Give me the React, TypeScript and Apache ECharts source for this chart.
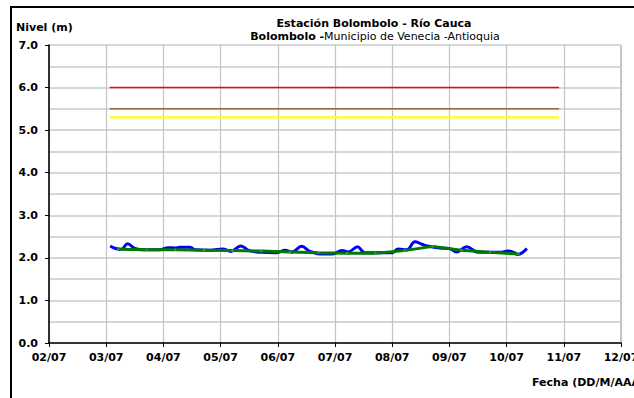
import React, { useEffect, useRef } from "react";
import * as echarts from "echarts";

const xTickLabels = ["02/07", "03/07", "04/07", "05/07", "06/07", "07/07", "08/07", "09/07", "10/07", "11/07", "12/07"];

const blueTimes = [
  "03/07 01:40", "03/07 04:00", "03/07 06:15", "03/07 09:00", "03/07 12:00", "03/07 15:00", "03/07 22:30",
  "04/07 02:00", "04/07 05:00", "04/07 07:00", "04/07 11:15", "04/07 13:15", "04/07 19:30",
  "05/07 01:15", "05/07 04:15", "05/07 08:30", "05/07 12:00", "05/07 17:15", "05/07 23:30",
  "06/07 03:00", "06/07 06:00", "06/07 10:00", "06/07 13:30", "06/07 18:00", "06/07 22:45",
  "07/07 03:00", "07/07 05:30", "07/07 09:30", "07/07 12:30",
  "08/07 00:00", "08/07 02:30", "08/07 06:15", "08/07 09:30", "08/07 12:30", "08/07 14:45", "08/07 20:00",
  "09/07 00:00", "09/07 03:00", "09/07 07:15", "09/07 12:00", "09/07 21:30",
  "10/07 00:30", "10/07 03:00", "10/07 04:45", "10/07 08:30",
];
const blueLevels = [
  2.28, 2.22, 2.2, 2.33, 2.22, 2.19, 2.19,
  2.24, 2.23, 2.25, 2.25, 2.19, 2.18,
  2.21, 2.15, 2.28, 2.17, 2.13, 2.12,
  2.18, 2.14, 2.27, 2.15, 2.09, 2.09,
  2.17, 2.14, 2.26, 2.12,
  2.12, 2.21, 2.19, 2.38, 2.32, 2.28, 2.23,
  2.22, 2.14, 2.26, 2.13, 2.13,
  2.16, 2.13, 2.08, 2.22,
];

const greenTimes = [
  "03/07 05:00", "03/07 17:00", "04/07 05:00", "04/07 17:00", "05/07 05:00", "05/07 17:00",
  "06/07 05:00", "06/07 17:00", "07/07 05:00", "07/07 17:00", "08/07 05:00", "08/07 17:00",
  "09/07 05:00", "09/07 17:00", "10/07 05:00",
];
const greenLevels = [2.2, 2.19, 2.19, 2.18, 2.17, 2.16, 2.14, 2.12, 2.11, 2.11, 2.17, 2.27, 2.18, 2.13, 2.09];

const thresholdStart = "03/07 01:30";
const thresholdEnd = "10/07 22:00";
const thresholdNames = ["Alerta roja", "Alerta naranja", "Alerta amarilla"];
const thresholdLevels = [6.0, 5.5, 5.3];

const dayOffset = (s: string): number => {
  const [d, t] = s.split(" ");
  const dd = Number(d.split("/")[0]);
  const [hh, mm] = t.split(":").map(Number);
  return dd - 2 + hh / 24 + mm / 1440;
};

const FONT = "'DejaVu Sans', 'Liberation Sans', Arial, sans-serif";

export default function App() {
  const ref = useRef<HTMLDivElement>(null);
  useEffect(() => {
    if (!ref.current) return;
    const chart = echarts.init(ref.current, undefined, { renderer: "svg" });
    const thresholdStyles = [
      { color: "#FF0000", width: 1.5 },
      { color: "#A0643C", width: 1.5 },
      { color: "#FFFF33", width: 2.5 },
    ];
    const thresholdSeries = thresholdLevels.map((lvl, i) => ({
      name: thresholdNames[i],
      type: "line",
      data: [
        [dayOffset(thresholdStart), lvl],
        [dayOffset(thresholdEnd), lvl],
      ],
      showSymbol: false,
      lineStyle: thresholdStyles[i],
      z: 2,
    }));
    chart.setOption({
      animation: false,
      textStyle: { fontFamily: FONT },
      grid: {
        left: 49,
        top: 45,
        right: 13,
        bottom: 55,
        outerBoundsMode: "none",
        containLabel: false,
        show: true,
        borderColor: "#8C8C8C",
        borderWidth: 1,
      },
      graphic: [
        {
          type: "rect",
          shape: { x: 11, y: 7, width: 700, height: 500 },
          style: { fill: "none", stroke: "#000", lineWidth: 2 },
          silent: true,
        },
        {
          type: "text",
          x: 374,
          y: 23,
          style: {
            text: "Estación Bolombolo - Río Cauca",
            font: `bold 11px ${FONT}`,
            fill: "#000",
            align: "center",
            verticalAlign: "middle",
          },
        },
        {
          type: "text",
          x: 375,
          y: 36,
          style: {
            text: "{b|Bolombolo -}{n|Municipio de Venecia -Antioquia}",
            align: "center",
            verticalAlign: "middle",
            rich: {
              b: { font: `bold 11px ${FONT}`, fill: "#000" },
              n: { font: `11px ${FONT}`, fill: "#000" },
            },
          },
        },
        {
          type: "text",
          x: 16,
          y: 27,
          style: {
            text: "Nivel (m)",
            font: `bold 11px ${FONT}`,
            fill: "#000",
            align: "left",
            verticalAlign: "middle",
          },
        },
        {
          type: "text",
          x: 532,
          y: 382,
          style: {
            text: "Fecha (DD/M/AAAA)",
            font: `bold 11px ${FONT}`,
            fill: "#000",
            align: "left",
            verticalAlign: "middle",
          },
        },
      ],
      xAxis: {
        type: "value",
        min: 0,
        max: 10,
        interval: 1,
        axisLine: { show: true, onZero: false, lineStyle: { color: "#000", width: 1.5 } },
        axisTick: { show: true, inside: false, length: 4, lineStyle: { color: "#000" } },
        axisLabel: {
          margin: 9,
          color: "#000",
          fontWeight: "bold",
          fontSize: 11,
          fontFamily: FONT,
          formatter: (v: number) => xTickLabels[Math.round(v)] ?? "",
        },
        splitLine: { show: true, lineStyle: { color: "#C4C4C4", width: 1.2 } },
      },
      yAxis: {
        type: "value",
        min: 0,
        max: 7,
        interval: 1,
        axisLine: { show: true, onZero: false, lineStyle: { color: "#000", width: 1.5 } },
        axisTick: { show: true, inside: false, length: 4, lineStyle: { color: "#000" } },
        axisLabel: {
          margin: 11,
          color: "#000",
          fontWeight: "bold",
          fontSize: 11,
          fontFamily: FONT,
          formatter: (v: number) => v.toFixed(1),
        },
        splitLine: { show: true, lineStyle: { color: "#D6D6D6", width: 2 } },
        minorTick: { show: false, splitNumber: 2 },
        minorSplitLine: { show: true, lineStyle: { color: "#D6D6D6", width: 2 } },
      },
      series: [
        ...thresholdSeries,
        {
          name: "Nivel",
          type: "line",
          data: blueTimes.map((t, i) => [dayOffset(t), blueLevels[i]]),
          showSymbol: false,
          smooth: 0.4,
          lineStyle: { color: "#0000FF", width: 3 },
          z: 3,
        },
        {
          name: "Tendencia",
          type: "line",
          data: greenTimes.map((t, i) => [dayOffset(t), greenLevels[i]]),
          showSymbol: true,
          symbol: "diamond",
          symbolSize: 3,
          itemStyle: { color: "#3A9A3A" },
          lineStyle: { color: "#007A00", width: 3 },
          z: 4,
        },
      ],
    });
    return () => chart.dispose();
  }, []);
  return (
    <div
      ref={ref}
      style={{ position: "fixed", left: 0, top: 0, width: 634, height: 398, background: "#fff" }}
    />
  );
}
